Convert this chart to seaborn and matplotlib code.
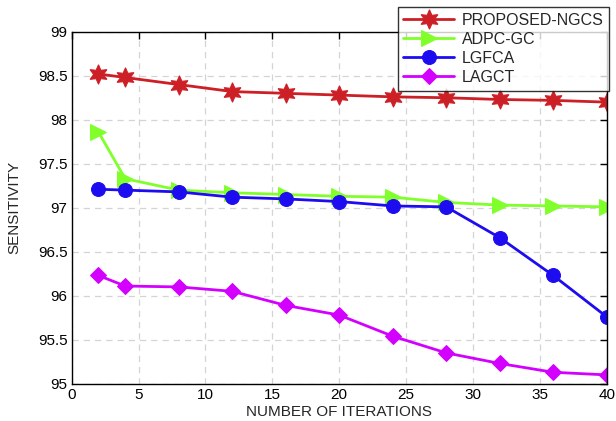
import matplotlib
matplotlib.use("Agg")
import matplotlib.pyplot as plt
import seaborn as sns
import pandas as pd

iterations = [2, 4, 8, 12, 16, 20, 24, 28, 32, 36, 40]
proposed_ngcs = [98.52, 98.48, 98.40, 98.32, 98.30, 98.28, 98.26, 98.25, 98.23, 98.22, 98.20]
adpc_gc = [97.86, 97.33, 97.20, 97.17, 97.15, 97.13, 97.12, 97.06, 97.03, 97.02, 97.01]
lgfca = [97.21, 97.20, 97.18, 97.12, 97.10, 97.07, 97.02, 97.01, 96.66, 96.23, 95.76]
lagct = [96.23, 96.11, 96.10, 96.05, 95.89, 95.78, 95.54, 95.35, 95.23, 95.13, 95.10]

series_names = ["PROPOSED-NGCS", "ADPC-GC", "LGFCA", "LAGCT"]
series_values = [proposed_ngcs, adpc_gc, lgfca, lagct]
colors = ["#CC1F26", "#80FF2A", "#1E0CF0", "#D400FF"]
markers = [(6, 1, 0), ">", "o", "D"]
msizes = [14, 11, 10, 8]

xticks = [0, 5, 10, 15, 20, 25, 30, 35, 40]
yticks = [95, 95.5, 96, 96.5, 97, 97.5, 98, 98.5, 99]
ytick_labels = ["95", "95.5", "96", "96.5", "97", "97.5", "98", "98.5", "99"]

sns.set_style("white")
plt.rcParams["font.family"] = ["Liberation Sans", "DejaVu Sans"]

fig = plt.figure(figsize=(6.16, 4.21), dpi=100)
ax = fig.add_axes([0.1164, 0.0886, 0.8685, 0.836])

for name, vals, c, m, ms in zip(series_names, series_values, colors, markers, msizes):
    df = pd.DataFrame({"x": iterations, "y": vals})
    sns.lineplot(data=df, x="x", y="y", ax=ax, color=c, marker=m, markersize=ms,
                 markeredgecolor=c, markerfacecolor=c, linewidth=2, label=name)

ax.set_xlim(0, 40)
ax.set_ylim(95, 99)
ax.set_xticks(xticks)
ax.set_yticks(yticks)
ax.set_yticklabels(ytick_labels)
ax.tick_params(direction="in", top=True, right=True, length=5, width=1, labelsize=11, colors="black", pad=3)
ax.grid(True, linestyle=(0, (5, 4)), color="#d4d4d4", linewidth=0.9)
for s in ax.spines.values():
    s.set_color("black")
    s.set_linewidth(1)
ax.set_xlabel("NUMBER OF ITERATIONS", fontsize=11, labelpad=2.5)
ax.set_ylabel("SENSITIVITY", fontsize=11, labelpad=12)

leg = ax.legend(loc="upper right", bbox_to_anchor=(0.9886, 0.9834), bbox_transform=fig.transFigure,
                fontsize=11.5, frameon=True, fancybox=False, edgecolor="black",
                borderpad=0.35, labelspacing=0.26, handlelength=3.2, handletextpad=0.45,
                borderaxespad=0)
leg.get_frame().set_linewidth(1)
leg.set_zorder(10)

fig.savefig("out.png", dpi=100)
